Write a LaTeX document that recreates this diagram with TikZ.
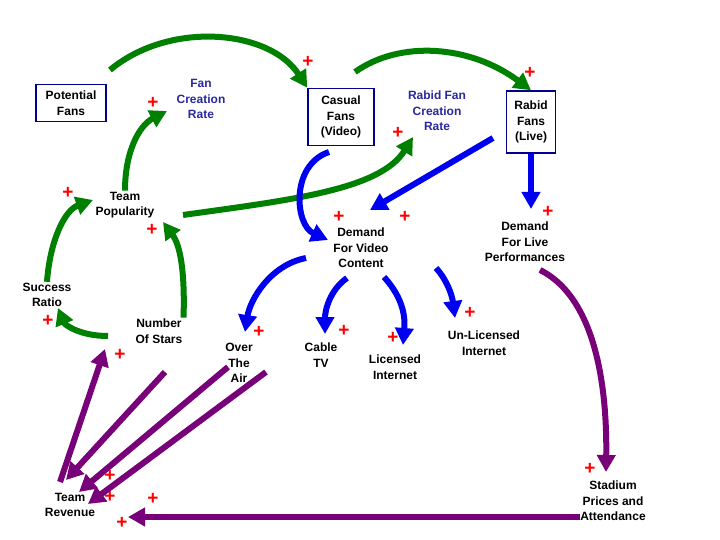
\documentclass[tikz,border=0pt]{standalone}
\usepackage{fontspec}
\setmainfont{Liberation Sans}
\usetikzlibrary{arrows.meta}
\definecolor{gr}{RGB}{0,128,0}
\definecolor{bl}{RGB}{0,0,240}
\definecolor{pu}{RGB}{120,0,120}
\definecolor{nb}{RGB}{0,0,140}
\definecolor{tb}{RGB}{40,40,160}
\begin{document}
\begin{tikzpicture}[x=1pt,y=-1pt,
 lbl/.style={font=\fontsize{12}{15.5}\selectfont\bfseries,align=center,inner sep=1pt},
 box/.style={lbl,draw=nb,line width=1.5pt,inner sep=3pt},
 plus/.style={text=red,font=\fontsize{19}{19}\selectfont\bfseries,inner sep=0pt},
 ar/.style={line width=6pt,-{Triangle[length=17pt,width=18pt]}},
 g/.style={ar,gr}, b/.style={ar,bl}, p/.style={ar,pu}]
\useasboundingbox (0,0) rectangle (720,540);
\node[box,minimum width=70pt,minimum height=37pt] (pf) at (71,103) {Potential\\Fans};
\node[lbl,text=tb] (fcr) at (201,99) {Fan\\Creation\\Rate};
\node[box,minimum width=66pt,minimum height=57pt] (cf) at (341,117) {Casual\\Fans\\(Video)};
\node[lbl,text=tb] (rfcr) at (437,111) {Rabid Fan\\Creation\\Rate};
\node[box,minimum width=49pt,minimum height=62pt] (rf) at (531,122) {Rabid\\Fans\\(Live)};
\node[lbl] (tp) at (125,205) {Team\\Popularity};
\node[lbl] (dv) at (361,248) {Demand\\For Video\\Content};
\node[lbl] (dl) at (525,242) {Demand\\For Live\\Performances};
\node[lbl] (sr) at (47,295) {Success\\Ratio};
\node[lbl] (ns) at (159,331) {Number\\Of Stars};
\node[lbl] (ota) at (239,363) {Over\\The\\Air};
\node[lbl] (ct) at (321,355) {Cable\\TV};
\node[lbl] (li) at (395,367) {Licensed\\Internet};
\node[lbl] (ul) at (484,343) {Un-Licensed\\Internet};
\node[lbl] (tr) at (70,505) {Team\\Revenue};
\node[lbl] (sp) at (613,501) {Stadium\\Prices and\\Attendance};
\foreach \x/\y [count=\i] in {308/62,153/103,530/73,398/133,68/193,152/230,339/217,405/217,548/212,48/321,120/355,259/332,344/331,393/338,470/313,590/469,110/476,110/497,153/499,122/523}
  \node[plus] (p\i) at (\x,\y) {+};
\coordinate (a1) at (110,70); \coordinate (a2) at (355,72);
\coordinate (a3) at (183,215); \coordinate (a4) at (329,152);
\coordinate (a5) at (493,138); \coordinate (a6) at (306,258);
\coordinate (a7) at (347,278); \coordinate (a8) at (384,277);
\coordinate (a9) at (436,268); \coordinate (a10) at (108,336);
\coordinate (a11) at (540,270); \coordinate (a12) at (580,517);
\coordinate (a13) at (165,372); \coordinate (a14) at (228,367);
\coordinate (a15) at (266,372); \coordinate (a16) at (60,482);
\draw[g] (a1) .. controls (170,20) and (270,30) .. (cf.north west);
\draw[g] (a2) .. controls (400,40) and (470,45) .. (rf.north);
\draw[g] (tp.north) .. controls (125,150) and (140,125) .. (167,111);
\draw[g] (a3) .. controls (290,200) and (380,190) .. (413,137);
\draw[g] (sr.north) .. controls (50,240) and (65,210) .. (93,200);
\draw[g] (ns.north east) .. controls (185,270) and (180,245) .. (163,222);
\draw[g] (a10) .. controls (80,336) and (65,325) .. (58,308);
\draw[b] (a4) .. controls (290,165) and (295,225) .. (328,240);
\draw[b] (a5) -- (370,210);
\draw[b] (rf.south) -- (531,209);
\draw[b] (a6) .. controls (270,265) and (250,300) .. (245,332);
\draw[b] (a7) .. controls (330,290) and (325,310) .. (325,334);
\draw[b] (a8) .. controls (405,300) and (405,320) .. (403,345);
\draw[b] (a9) .. controls (447,280) and (452,295) .. (455,318);
\draw[p] (a11) .. controls (600,300) and (607,400) .. (606,472);
\draw[p] (a12) -- (128,517);
\draw[p] (a16) -- (105,349);
\draw[p] (a13) -- (66,480);
\draw[p] (a14) -- (79,492);
\draw[p] (a15) -- (88,504);
\end{tikzpicture}
\end{document}
